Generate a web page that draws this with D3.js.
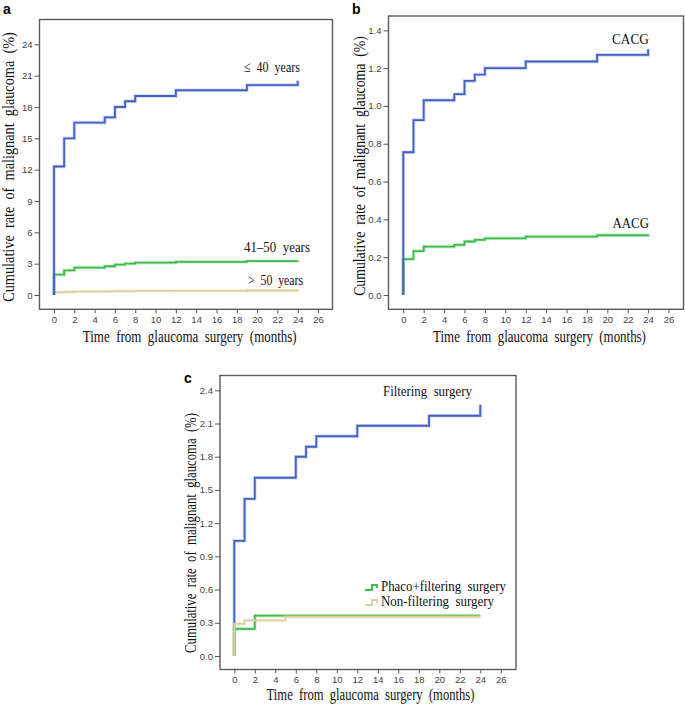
<!DOCTYPE html>
<html>
<head>
<meta charset="utf-8">
<script src="https://cdn.jsdelivr.net/npm/d3@7"></script>
<style>
  html, body { margin: 0; padding: 0; background: #fff; }
  svg { display: block; }
  .tick text { font-family: "Liberation Sans", Arial, sans-serif; font-size: 9.5px; fill: #444; }
  .tick line { stroke: #555; stroke-width: 1; }
</style>
</head>
<body>
<svg id="chart" width="685" height="704"></svg>
<script>
// ---------------- DATA ----------------
const months = [0, 1, 2, 5, 6, 7, 8, 12, 19, 24];
const xTicks = [0, 2, 4, 6, 8, 10, 12, 14, 16, 18, 20, 22, 24, 26];

// Panel a: by age group
const ageGroups = ["≤ 40 years", "41–50 years", "> 50 years"];
const ageYTicks = [0, 3, 6, 9, 12, 15, 18, 21, 24];
const ageUnder40 = [12.3, 15.0, 16.5, 17.0, 18.0, 18.55, 19.05, 19.6, 20.1, 20.5];
const age41to50 = [1.95, 2.35, 2.62, 2.75, 2.9, 3.0, 3.1, 3.17, 3.25, 3.3];
const ageOver50 = [0.25, 0.3, 0.33, 0.35, 0.37, 0.38, 0.39, 0.4, 0.43, 0.45];

// Panel b: by glaucoma type
const typeGroups = ["CACG", "AACG"];
const typeYTicks = [0.0, 0.2, 0.4, 0.6, 0.8, 1.0, 1.2, 1.4];
const cacg = [0.755, 0.925, 1.03, 1.062, 1.132, 1.166, 1.20, 1.235, 1.27, 1.30];
const aacg = [0.19, 0.232, 0.256, 0.265, 0.283, 0.292, 0.30, 0.309, 0.316, 0.321];

// Panel c: by surgery type
const surgeryGroups = ["Filtering surgery", "Phaco+filtering surgery", "Non-filtering surgery"];
const surgYTicks = [0.0, 0.3, 0.6, 0.9, 1.2, 1.5, 1.8, 2.1, 2.4];
const filtMonths = [0, 1, 2, 6, 7, 8, 12, 19, 24];
const filtering = [1.04, 1.42, 1.61, 1.80, 1.89, 1.985, 2.08, 2.17, 2.27];
const phacoMonths = [0, 2, 24];
const phacoFiltering = [0.245, 0.365, 0.365];
const nonFiltMonths = [0, 1, 5, 24];
const nonFiltering = [0.29, 0.322, 0.355, 0.355];

const xTitle = "Time from glaucoma surgery (months)";
const yTitle = "Cumulative rate of malignant glaucoma (%)";

// ---------------- STYLE ----------------
const BLUE = "#4461c4", GREEN = "#3dbb4b", TAN = "#ddd09c";
const svg = d3.select("#chart");
const serif = "'Liberation Serif', 'Times New Roman', serif";

// serif text horizontally condensed to a measured width (narrow source font, wide word gaps)
function serifText(parent, txt, x, y, width, size, anchor, rotate) {
  const t = parent.append("text")
    .attr("font-family", serif).attr("font-size", size).attr("fill", "#111")
    .attr("word-spacing", size * 0.25)
    .attr("text-anchor", anchor || "start")
    .text(txt);
  const L = t.node().getComputedTextLength();
  const k = Math.min(1, width / L);
  t.attr("transform", `translate(${x},${y})${rotate ? " rotate(-90)" : ""} scale(${k},1)`);
  return t;
}

function panel(cfg) {
  const g = svg.append("g");
  const x = d3.scaleLinear().domain([0, 26]).range(cfg.xRange);
  const y = d3.scaleLinear().domain([0, cfg.yMax]).range(cfg.yRange);

  g.append("rect")
    .attr("x", cfg.frame[0]).attr("y", cfg.frame[1])
    .attr("width", cfg.frame[2] - cfg.frame[0]).attr("height", cfg.frame[3] - cfg.frame[1])
    .attr("fill", "none").attr("stroke", "#5a5a5a").attr("stroke-width", 1.4);

  const xa = g.append("g").attr("transform", `translate(0,${cfg.frame[3]})`)
    .call(d3.axisBottom(x).tickValues(xTicks).tickSize(4).tickPadding(3).tickFormat(d3.format("d")));
  xa.select(".domain").remove();
  const ya = g.append("g").attr("transform", `translate(${cfg.frame[0]},0)`)
    .call(d3.axisLeft(y).tickValues(cfg.yTicks).tickSize(5).tickPadding(2).tickFormat(cfg.fmt));
  ya.select(".domain").remove();

  const line = d3.line().x(d => x(d[0])).y(d => y(d[1])).curve(d3.curveStepAfter);
  cfg.series.forEach(s => {
    const pts = [[0, 0]].concat(s.t.map((t, i) => [t, s.v[i]]));
    g.append("path").datum(pts).attr("d", line)
      .attr("fill", "none").attr("stroke", s.color).attr("stroke-opacity", 0.25)
      .attr("stroke-width", 3.6);
    g.append("path").datum(pts).attr("d", line)
      .attr("fill", "none").attr("stroke", s.color).attr("stroke-width", 1.8);
  });

  cfg.labels.forEach(l => serifText(g, l.text, l.x, l.y, l.w, 15.5));

  serifText(g, xTitle, cfg.xTitle[0], cfg.xTitle[1], cfg.xTitle[2], 17, "middle");
  serifText(g, yTitle, cfg.yTitle[0], cfg.yTitle[1], cfg.yTitle[2], 17, "middle", true);

  g.append("text").attr("x", cfg.letter[0]).attr("y", cfg.letter[1])
    .attr("font-family", "'Liberation Sans', Arial, sans-serif").attr("font-weight", "bold")
    .attr("font-size", 14).attr("fill", "#000").text(cfg.letter[2]);
  return { g, x, y };
}

// Panel a
panel({
  frame: [39.5, 19.5, 332.5, 309.3],
  xRange: [54, 318], yRange: [295, 44.3], yMax: 24,
  yTicks: ageYTicks, fmt: d3.format("d"),
  series: [
    { t: months, v: ageOver50, color: TAN },
    { t: months, v: age41to50, color: GREEN },
    { t: months, v: ageUnder40, color: BLUE }
  ],
  labels: [
    { x: 244, y: 72, w: 56, text: ageGroups[0] },
    { x: 244, y: 252, w: 66, text: ageGroups[1] },
    { x: 248, y: 285, w: 55, text: ageGroups[2] }
  ],
  xTitle: [189.7, 342, 214],
  yTitle: [14, 167, 270],
  letter: [3, 14, "a"]
});

// Panel b
panel({
  frame: [388.5, 16, 683.5, 309.3],
  xRange: [403.3, 668.5], yRange: [295, 30.3], yMax: 1.4,
  yTicks: typeYTicks, fmt: d3.format(".1f"),
  series: [
    { t: months, v: aacg, color: GREEN },
    { t: months, v: cacg, color: BLUE }
  ],
  labels: [
    { x: 612, y: 44, w: 37, text: typeGroups[0] },
    { x: 612.5, y: 228, w: 36.5, text: typeGroups[1] }
  ],
  xTitle: [539.5, 342, 213],
  yTitle: [365, 166, 260],
  letter: [352, 14, "b"]
});

// Panel c
const pc = panel({
  frame: [220, 375.5, 516, 669.5],
  xRange: [234.3, 500.8], yRange: [656, 390.3], yMax: 2.4,
  yTicks: surgYTicks, fmt: d3.format(".1f"),
  series: [
    { t: filtMonths, v: filtering, color: BLUE },
    { t: phacoMonths, v: phacoFiltering, color: GREEN },
    { t: nonFiltMonths, v: nonFiltering, color: TAN }
  ],
  labels: [
    { x: 383, y: 396, w: 89, text: surgeryGroups[0] }
  ],
  xTitle: [370.5, 700, 208],
  yTitle: [196, 533, 240],
  letter: [184, 383, "c"]
});

// Panel c legend (step-shaped symbols)
const legend = pc.g.append("g");
[{ name: surgeryGroups[1], color: GREEN, y: 591, w: 125 }, { name: surgeryGroups[2], color: TAN, y: 606, w: 113 }]
  .forEach(d => {
    legend.append("path")
      .attr("d", `M365,${d.y - 1} H372 V${d.y - 6} H377 V${d.y - 3}`)
      .attr("fill", "none").attr("stroke", d.color).attr("stroke-width", 1.8);
    serifText(legend, d.name, 381, d.y, d.w, 14.5);
  });
</script>
</body>
</html>
